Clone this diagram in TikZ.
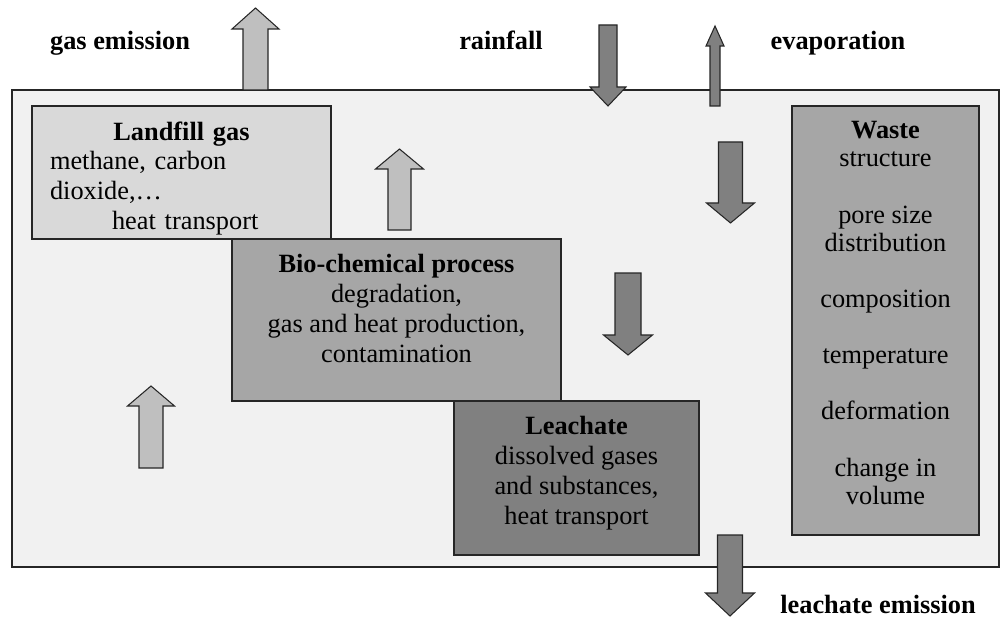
\documentclass[tikz,border=0pt]{standalone}
\usepackage{fontspec}
\setmainfont{Liberation Serif}
\usetikzlibrary{fit}
\definecolor{framegrey}{RGB}{38,38,38}
\definecolor{groundgrey}{RGB}{241,241,241}
\definecolor{gaslight}{RGB}{217,217,217}
\definecolor{processgrey}{RGB}{166,166,166}
\definecolor{leachdark}{RGB}{128,128,128}
\definecolor{arrowlight}{RGB}{191,191,191}
\tikzset{
  sitebody/.style={draw=framegrey,line width=0.6pt,fill=groundgrey,inner sep=0pt},
  layerbox/.style={draw=framegrey,line width=0.8pt,inner sep=0pt},
  boxtext/.style={inner sep=0pt,anchor=north,align=center,
    font=\fontsize{15}{17}\selectfont},
  fluxlabel/.style={inner sep=0pt,anchor=base,font=\fontsize{15}{17}\selectfont\bfseries},
  upflow/.style={draw=framegrey,line width=0.6pt,fill=arrowlight},
  downflow/.style={draw=framegrey,line width=0.6pt,fill=leachdark}
}
% x, tail, head base, tip, half shaft, half head
\newcommand{\blockarrow}[7][]{%
  \draw[#1] (#2-#6,#3) -- (#2-#6,#4) -- (#2-#7,#4) -- (#2,#5)
    -- (#2+#7,#4) -- (#2+#6,#4) -- (#2+#6,#3) -- cycle;}

\begin{document}
\begin{tikzpicture}[x=0.02cm,y=-0.02cm]
  \useasboundingbox (0,0) rectangle (1000,618);
  \node[sitebody,fit={(12,90) (999,567)}] (site) {};
  \node[layerbox,fill=gaslight,fit={(32,106) (331,239)}] (gas) {};
  \node[layerbox,fill=processgrey,fit={(232,239) (561,401)}] (bio) {};
  \node[layerbox,fill=leachdark,fit={(454,401) (699,555)}] (leach) {};
  \node[layerbox,fill=processgrey,fit={(792,106) (979,535)}] (waste) {};

  \node[boxtext,text width=5.26cm] (gastext) at ([yshift=-9pt]gas.north)
    {\textbf{Landfill gas}\\methane, carbon\hfill\null\\dioxide,\ldots\hfill\null\\
    \hspace*{1.24cm}heat transport\hfill\null};
  \node[boxtext] (biotext) at ([yshift=-9pt]bio.north)
    {\textbf{Bio-chemical process}\\degradation,\\gas and heat production,\\
    contamination};
  \node[boxtext] (leachtext) at ([yshift=-9pt]leach.north)
    {\textbf{Leachate}\\dissolved gases\\and substances,\\heat transport};
  \node[boxtext,font=\fontsize{15}{16}\selectfont] (wastetext) at ([yshift=-9pt]waste.north)
    {\textbf{Waste}\\structure\\[16pt]pore size\\distribution\\[16pt]composition\\[16pt]
    temperature\\[16pt]deformation\\[16pt]change in\\volume};

  \node[fluxlabel] (gasemission) at (120,50) {gas emission};
  \node[fluxlabel] (rainfall) at (501,50) {rainfall};
  \node[fluxlabel] (evaporation) at (838,50) {evaporation};
  \node[fluxlabel] (leachemission) at (878,613) {leachate emission};

  \blockarrow[upflow]{255.5}{90}{29}{8}{12.5}{23.5}
  \blockarrow[upflow]{399.5}{230}{169}{149}{11.5}{24}
  \blockarrow[upflow]{151}{468}{406}{386}{12}{23.5}
  \blockarrow[downflow]{608}{25}{87}{106}{9}{18}
  \blockarrow[downflow]{715}{106}{46}{26}{5}{9}
  \blockarrow[downflow]{730.5}{142}{203}{223}{12}{24}
  \blockarrow[downflow]{628}{273}{335}{355}{13}{24.5}
  \blockarrow[downflow]{730}{535}{593}{616}{12.5}{24.5}
\end{tikzpicture}
\end{document}
